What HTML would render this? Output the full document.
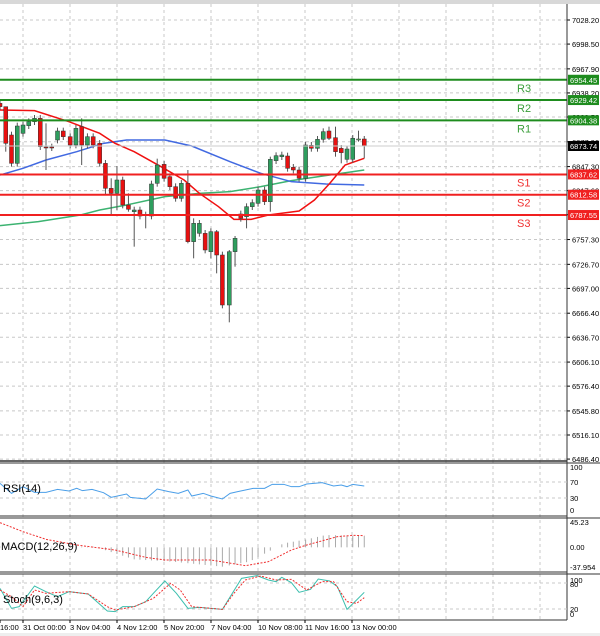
<!DOCTYPE html>
<html><head><meta charset="utf-8"><style>
body{margin:0;background:#fff;width:600px;height:636px;overflow:hidden}
svg{display:block;font-family:"Liberation Sans",sans-serif}
</style></head><body>
<svg id="s" width="600" height="636" xmlns="http://www.w3.org/2000/svg"></svg>
<script>
const S=document.getElementById('s');let h='';
const X=zx=>zx/2.608, Y=zy=>60+zy/3, Yb=zy=>450+zy/3;
const py=p=>20+(7028.2-p)*0.8104;
h+='<rect x="0" y="0" width="600" height="4" fill="#d8d8d8"/>';
for(let x=23;x<567;x+=47){h+=`<line x1="${x}" y1="4" x2="${x}" y2="620" stroke="#c8c8c8" stroke-dasharray="3,3"/>`;}
const pl=[7028.2,6998.5,6967.9,6938.2,6908.5,6877.9,6847.3,6817.6,6787.9,6757.3,6726.7,6697.0,6666.4,6636.7,6606.1,6576.4,6545.8,6516.1,6486.4];
pl.forEach(p=>{const y=py(p);h+=`<line x1="0" y1="${y}" x2="567" y2="${y}" stroke="#c8c8c8" stroke-dasharray="3,3"/><line x1="567" y1="${y}" x2="570" y2="${y}" stroke="#000"/><text x="572" y="${y+3}" font-size="7.5" fill="#000">${p.toFixed(2)}</text>`;});
function pl2(pts,c,f,w,d){return `<polyline fill="none" stroke="${c}" stroke-width="${w}" ${d?'stroke-dasharray="'+d+'"':''} points="${pts.map(p=>X(p[0])+','+f(p[1])).join(' ')}"/>`;}
h+=pl2([[0,497],[100,485],[210,465],[260,450],[330,435],[430,410],[520,400],[600,395],[680,380],[760,362],[860,345],[950,330]],'#3cb371',Y,1.5);
h+=pl2([[0,345],[60,325],[120,300],[200,275],[270,250],[330,240],[430,240],[500,258],[600,305],[680,340],[760,365],[850,372],[950,375]],'#4169e1',Y,1.5);
h+=pl2([[0,150],[90,152],[180,185],[260,220],[300,250],[350,275],[420,320],[480,360],[520,400],[570,440],[610,478],[655,478],[700,465],[780,453],[820,420],[860,370],[900,315],[950,295]],'#f01010',Y,1.5);
const C=[[0,130,140,'r'],[15,140,250,'r',140,275],[30,225,310,'r'],[45,198,310,'g'],[60,195,220,'g'],[75,185,197,'g'],[90,175,185,'g'],[105,175,260,'r'],[120,261,263,'r',190,330],[135,261,263,'r'],[150,213,240,'g'],[165,213,230,'r'],[183,230,255,'r'],[198,205,255,'g'],[213,200,255,'r',175,315],[228,230,255,'g'],[243,230,255,'r'],[260,250,310,'r'],[275,310,385,'r',300,405],[290,385,400,'r',355,468],[305,360,400,'g',318,450],[320,360,435,'r'],[335,435,448,'r',400,455],[350,450,455,'g',440,560],[365,450,468,'r'],[380,464,466,'r',455,505],[395,372,468,'g'],[410,315,370,'g',296,380],[428,313,355,'r'],[443,350,380,'r'],[458,380,415,'r'],[473,370,415,'g'],[490,370,545,'r',330,550],[505,490,545,'g',475,595],[520,490,520,'g'],[535,520,570,'r'],[550,515,575,'g',505,595],[565,515,585,'r',510,640],[580,585,735,'r'],[598,575,735,'g',570,787],[613,535,575,'g',528,620],[628,462,475,'r'],[643,440,470,'g',430,505],[658,428,440,'g'],[673,390,430,'g'],[690,390,425,'r'],[705,298,425,'g',290,455],[720,287,302,'g'],[735,285,290,'g'],[750,288,325,'r'],[765,322,330,'r'],[780,330,355,'r'],[797,255,355,'g'],[812,256,265,'r'],[828,238,265,'g'],[843,215,238,'g'],[858,213,235,'r',200,240],[875,233,275,'r',200,290],[890,265,278,'r',255,310],[905,267,298,'g'],[920,235,298,'g'],[935,237,239,'lg',212,245],[950,237,258,'r',228,295]];
C.forEach(c=>{const x=X(c[0]);const wt=c[4]!==undefined?c[4]:c[1]-10,wb=c[5]!==undefined?c[5]:c[2]+10;
const col=c[3]=='r'?'#e81010':c[3]=='g'?'#2e9e5e':'#7ccf7c';
h+=`<line x1="${x}" y1="${Y(wt)}" x2="${x}" y2="${Y(wb)}" stroke="#555" stroke-width="1"/>`;
h+=`<rect x="${x-2}" y="${Y(c[1])}" width="4" height="${Math.max(1,(c[2]-c[1])/3)}" fill="${col}" stroke="#333" stroke-width="0.5"/>`;});
const lv=[[6954.45,'#1e8c1e','R3'],[6929.42,'#1e8c1e','R2'],[6904.38,'#1e8c1e','R1'],[6837.62,'#f02020','S1'],[6812.58,'#f02020','S2'],[6787.55,'#f02020','S3']];
lv.forEach(l=>{const y=py(l[0]);h+=`<line x1="0" y1="${y}" x2="567" y2="${y}" stroke="${l[1]}" stroke-width="2"/><text x="517" y="${y+12}" font-size="11" fill="${l[1]=='#1e8c1e'?'#3a9e3a':'#f03030'}">${l[2]}</text><rect x="568" y="${y-5}" width="31" height="10" fill="${l[1]}"/><text x="570" y="${y+3}" font-size="7.5" fill="#fff">${l[0].toFixed(2)}</text>`;});
h+=`<line x1="0" y1="146" x2="567" y2="146" stroke="#ccc"/><rect x="568" y="141" width="31" height="10" fill="#000"/><text x="570" y="149" font-size="7.5" fill="#fff">6873.74</text>`;
h+='<line x1="0" y1="461" x2="567" y2="461" stroke="#333" stroke-width="1.5"/><line x1="0" y1="463" x2="600" y2="463" stroke="#333"/>';
h+='<line x1="0" y1="516" x2="567" y2="516" stroke="#333"/><line x1="0" y1="518" x2="600" y2="518" stroke="#333"/>';
h+='<line x1="0" y1="572" x2="567" y2="572" stroke="#333"/><line x1="0" y1="574" x2="600" y2="574" stroke="#333"/>';
h+='<line x1="0" y1="620" x2="567" y2="620" stroke="#333"/>';
h+='<line x1="567" y1="4" x2="567" y2="620" stroke="#333"/>';
[[467,'100'],[482,'70'],[498,'30'],[510,'0']].forEach(a=>{h+=`<text x="570" y="${a[0]+3}" font-size="7.5">${a[1]}</text>`; if(a[1]=='70'||a[1]=='30')h+=`<line x1="0" y1="${a[0]}" x2="567" y2="${a[0]}" stroke="#c8c8c8" stroke-dasharray="3,3"/>`;});
h+=pl2([[0,100],[30,130],[60,110],[90,127],[120,127],[150,118],[180,123],[200,115],[215,122],[240,118],[270,128],[290,142],[330,132],[340,142],[380,147],[410,117],[440,125],[465,130],[490,120],[500,138],[530,130],[550,138],[580,147],[600,130],[620,125],[660,115],[690,115],[710,103],[740,103],[760,110],[780,110],[800,102],[840,98],[870,108],[890,105],[905,110],[920,103],[950,108]],'#4a9ee8',Yb,1);
h+='<text x="3" y="492" font-size="11">RSI(14)</text>';
h+='<text x="570" y="525" font-size="7.5">45.23</text><text x="570" y="550" font-size="7.5">0.00</text><text x="570" y="570" font-size="7.5">-37.954</text>';
const sg=[[0,218],[60,245],[120,268],[200,285],[300,300],[380,322],[430,330],[550,330],[640,347],[700,335],[760,300],[800,285],[880,260],[920,256],[950,257]];
const hb=[[0,290],[250,290],[260,295],[300,310],[350,328],[450,335],[580,350],[650,335],[700,305],[720,292],[740,280],[800,268],[850,255],[950,258]];
function ip(a,x){for(let i=0;i<a.length-1;i++)if(x>=a[i][0]&&x<=a[i+1][0]){const t=(x-a[i][0])/(a[i+1][0]-a[i][0]);return a[i][1]+t*(a[i+1][1]-a[i][1]);}return a[a.length-1][1];}
C.forEach(c=>{const v=ip(hb,c[0]);h+=`<line x1="${X(c[0])}" y1="${Yb(292)}" x2="${X(c[0])}" y2="${Yb(v)}" stroke="#aaa"/>`;});
h+=pl2(sg,'#f03030',Yb,1,'2,1.5');
h+='<text x="1" y="550" font-size="11">MACD(12,26,9)</text>';
[[580,'100'],[584,'80'],[609,'20'],[614,'0']].forEach(a=>{h+=`<text x="570" y="${a[0]+3}" font-size="7.5">${a[1]}</text>`;});
h+=`<line x1="0" y1="583" x2="567" y2="583" stroke="#c8c8c8" stroke-dasharray="3,3"/><line x1="0" y1="609" x2="567" y2="609" stroke="#c8c8c8" stroke-dasharray="3,3"/>`;
h+=pl2([[0,415],[30,475],[50,470],[90,408],[120,425],[150,440],[180,425],[230,432],[280,483],[300,485],[320,470],[350,470],[380,455],[400,430],[430,393],[460,430],[490,475],[520,472],[580,478],[630,385],[670,377],[700,390],[720,395],[735,382],[760,398],[780,427],[810,418],[830,387],[860,393],[880,410],[905,478],[930,450],[950,427]],'#3cbfae',Yb,1);
h+=pl2([[0,420],[30,440],[60,470],[90,420],[120,430],[180,425],[230,432],[280,470],[300,480],[350,470],[400,445],[445,400],[470,420],[500,470],[580,478],[610,430],[640,390],[680,378],[720,390],[760,388],[800,420],[840,395],[870,395],[905,455],[930,460],[950,443]],'#f03030',Yb,1,'2,1.5');
h+='<text x="3" y="603" font-size="11">Stoch(9,6,3)</text>';
[[0,'16:00'],[23,'31 Oct 00:00'],[70,'3 Nov 04:00'],[117,'4 Nov 12:00'],[164,'5 Nov 20:00'],[211,'7 Nov 04:00'],[258,'10 Nov 08:00'],[305,'11 Nov 16:00'],[352,'13 Nov 00:00']].forEach(t=>{h+=`<line x1="${t[0]}" y1="620" x2="${t[0]}" y2="623" stroke="#000"/><text x="${t[0]}" y="630" font-size="7.5">${t[1]}</text>`;});
h+='<rect x="0" y="633" width="600" height="3" fill="#eee"/>';
S.innerHTML=h;
</script>
</body></html>
